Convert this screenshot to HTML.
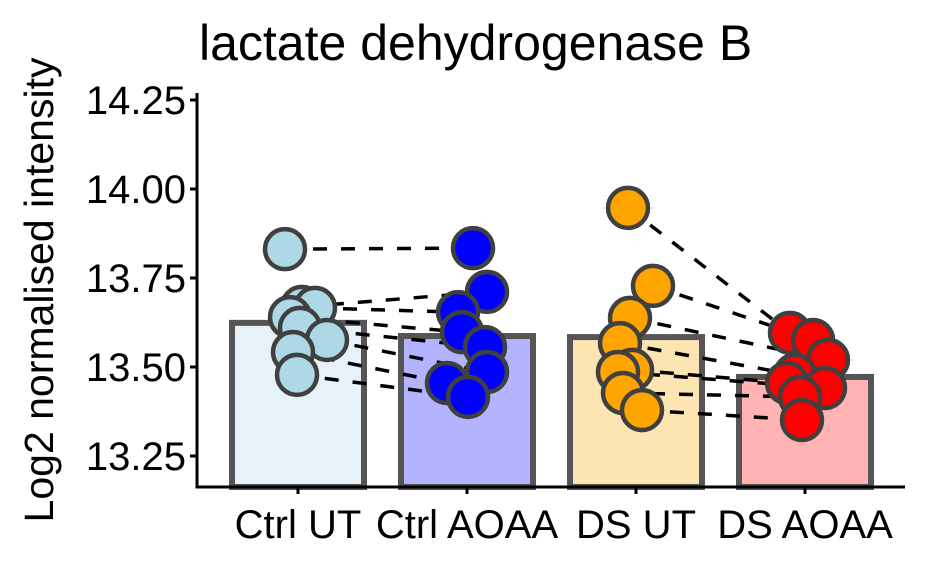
<!DOCTYPE html>
<html><head><meta charset="utf-8"><style>
body{margin:0;background:#fff;font-family:"Liberation Sans",sans-serif}
svg text{font-family:"Liberation Sans",sans-serif}
</style></head><body>
<svg id="c" width="930" height="570" xmlns="http://www.w3.org/2000/svg">
<text x="199" y="60" font-size="50" fill="#000">lactate dehydrogenase B</text>
<text transform="translate(53,290) rotate(-90)" text-anchor="middle" font-size="41" fill="#000">Log2 normalised intensity</text>
<g id="bars"></g><g id="lines"></g><g id="pts"></g><g id="axes"></g>
</svg>
<script>
const categories=["Ctrl UT","Ctrl AOAA","DS UT","DS AOAA"];
const means=[13.624,13.587,13.584,13.472];
const ctrlUT=[13.831,13.669,13.666,13.640,13.610,13.576,13.542,13.478];
const ctrlAOAA=[13.834,13.711,13.654,13.598,13.556,13.486,13.455,13.416];
const dsUT=[13.947,13.728,13.638,13.567,13.492,13.486,13.427,13.379];
const dsAOAA=[13.596,13.576,13.520,13.478,13.455,13.441,13.416,13.351];
const jitter=[[-13,4,17,-8,2,29,-5,-1],[6,20,-9,-5,18,20,-20,1],[-8,17,-6,-16,-4,-18,-13,6],[-15,8,23,-10,-18,20,-5,-3]];
const yTicks=[13.25,13.5,13.75,14.0,14.25];
const yTickLabels=["13.25","13.50","13.75","14.00","14.25"];
const series=[ctrlUT,ctrlAOAA,dsUT,dsAOAA];
const fills=["#e6f1f8","#b3b3ff","#fde4b3","#ffb3b3"];
const ptFill=["#add8e6","#0000ff","#ffa500","#ff0000"];
const NS="http://www.w3.org/2000/svg";
const yS=v=>456-(v-13.25)*356;
const xS=i=>298+i*169;
const y0=487;
function mk(tag,attrs,parent){const e=document.createElementNS(NS,tag);for(const k in attrs)e.setAttribute(k,attrs[k]);document.getElementById(parent).appendChild(e);return e;}
categories.forEach((c,i)=>{
 const b=mk("rect",{x:xS(i)-66,y:yS(means[i]),width:132,height:y0-yS(means[i]),fill:fills[i],stroke:"#555",'stroke-width':6},"bars");
 
 
});
[[0,1],[2,3]].forEach(([a,b])=>{
 series[a].forEach((v,k)=>{
  const l=mk("line",{x1:xS(a)+jitter[a][k],y1:yS(v),x2:xS(b)+jitter[b][k],y2:yS(series[b][k]),stroke:"#000",'stroke-width':3.5,'stroke-dasharray':"14 14"},"lines");
  
  
 });
});
series.forEach((s,i)=>s.forEach((v,k)=>{
 const p=mk("circle",{cx:xS(i)+jitter[i][k],cy:yS(v),r:20,fill:ptFill[i],stroke:"#404040",'stroke-width':4.5},"pts");
 
 
}));
const ax=mk("path",{d:"M197,93 V487 H905",fill:"none",stroke:"#000",'stroke-width':3},"axes");


yTicks.forEach((t,i)=>{
 mk("line",{x1:190,x2:197,y1:yS(t),y2:yS(t),stroke:"#000",'stroke-width':3},"axes");
 const tx=mk("text",{x:186,y:yS(t)+14,'text-anchor':'end','font-size':40,fill:"#000"},"axes");
 tx.textContent=yTickLabels[i];
 
 
});
categories.forEach((c,i)=>{
 mk("line",{x1:xS(i),x2:xS(i),y1:487,y2:494,stroke:"#000",'stroke-width':3},"axes");
 const tx=mk("text",{x:xS(i),y:538,'text-anchor':'middle','font-size':40,fill:"#000"},"axes");
 tx.textContent=c;
 
 
});
</script>
</body></html>
